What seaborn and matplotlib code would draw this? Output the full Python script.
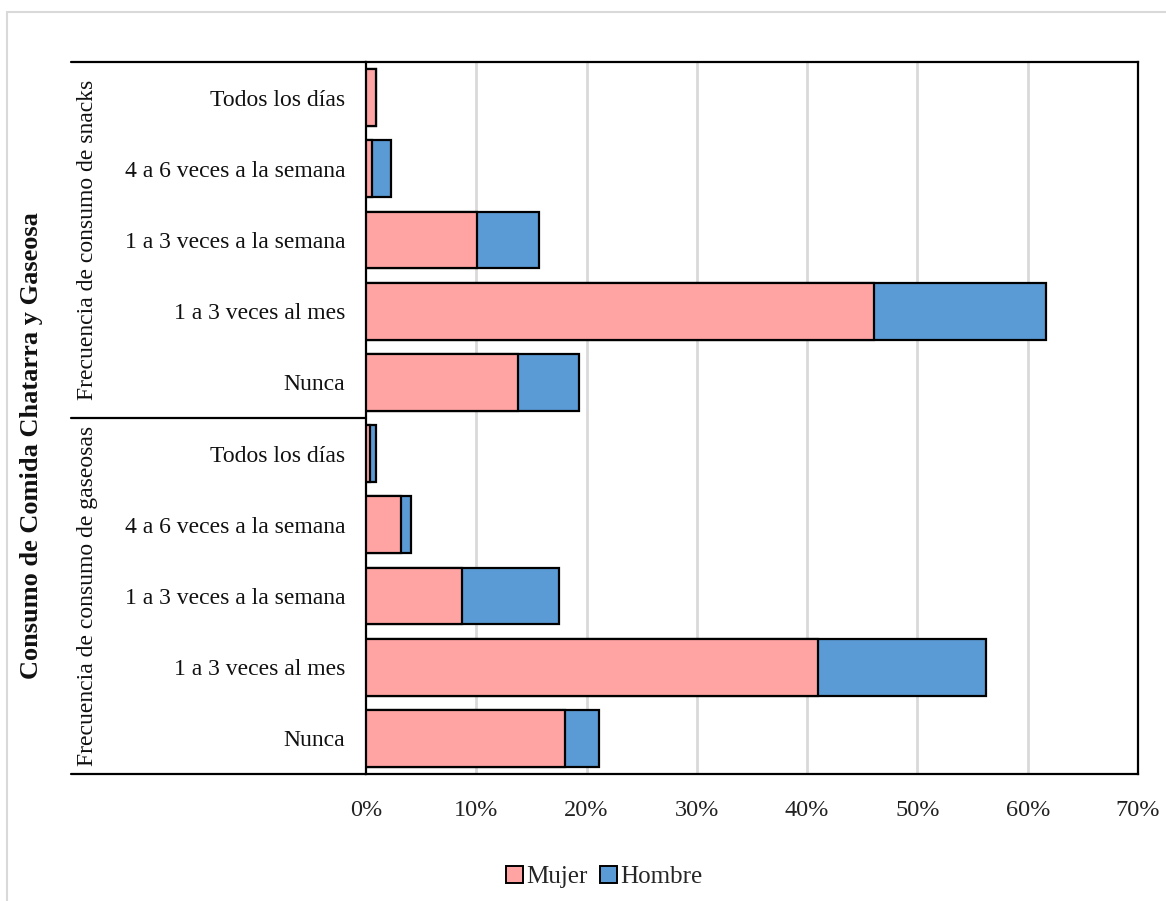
import matplotlib
matplotlib.use("Agg")
import matplotlib.pyplot as plt
from matplotlib.lines import Line2D
from matplotlib.patches import Patch
from matplotlib.ticker import PercentFormatter
import seaborn as sns
import pandas as pd

sns.set_theme(style="white")
plt.rcParams["font.family"] = ["Liberation Serif", "DejaVu Serif"]

# Frequency categories (top to bottom inside each group)
frecuencias = ["Todos los días", "4 a 6 veces a la semana", "1 a 3 veces a la semana",
               "1 a 3 veces al mes", "Nunca"]
grupos = ["Frecuencia de consumo de snacks", "Frecuencia de consumo de gaseosas"]

# Percentages by sex
mujer_snacks = [0.9, 0.5, 10.1, 46.1, 13.8]
hombre_snacks = [0.0, 1.8, 5.6, 15.6, 5.5]
mujer_gaseosas = [0.4, 3.2, 8.7, 41.0, 18.0]
hombre_gaseosas = [0.5, 0.9, 8.8, 15.2, 3.1]

x_ticks = [0, 10, 20, 30, 40, 50, 60, 70]

color_mujer = "#FFA3A3"
color_hombre = "#5B9BD5"

rows = []
for g, muj, hom in [(grupos[0], mujer_snacks, hombre_snacks),
                    (grupos[1], mujer_gaseosas, hombre_gaseosas)]:
    for f, m, h in zip(frecuencias, muj, hom):
        rows.append({"clave": f"{g}|{f}", "frecuencia": f, "Mujer": m, "Hombre": h})
df = pd.DataFrame(rows)
df["Total"] = df["Mujer"] + df["Hombre"]
order = list(df["clave"])

fig = plt.figure(figsize=(11.66, 9.01), dpi=100)
ax = fig.add_axes([366 / 1166, 1 - 774 / 901, (1138 - 366) / 1166, (774 - 62) / 901])

# Stacked bars: total first (Hombre colour), then Mujer on top
sns.barplot(data=df, y="clave", x="Total", order=order, orient="h", color=color_hombre,
            saturation=1, width=0.8, edgecolor="black", linewidth=1.6, ax=ax, zorder=3)
sns.barplot(data=df, y="clave", x="Mujer", order=order, orient="h", color=color_mujer,
            saturation=1, width=0.8, edgecolor="black", linewidth=1.6, ax=ax, zorder=4)

ax.set_xlim(0, 70)
ax.set_ylim(9.5, -0.5)
ax.set_xticks(x_ticks)
ax.xaxis.set_major_formatter(PercentFormatter(decimals=0))
ax.tick_params(axis="x", labelsize=17.5, length=0, pad=19, colors="#222222")
ax.set_yticks(range(len(order)))
ax.set_yticklabels(df["frecuencia"], fontsize=17, color="#111111")
ax.tick_params(axis="y", length=0, pad=15)
ax.set_xlabel("")
ax.set_ylabel("")

for v in x_ticks[1:-1]:
    ax.axvline(v, color="#D9D9D9", linewidth=2, zorder=1)

for side in ["left", "right", "top", "bottom"]:
    ax.spines[side].set_visible(True)
    ax.spines[side].set_color("black")
    ax.spines[side].set_linewidth(1.6)

# Group separators extending into the label area
x0 = 71 / 1166
xa = 366 / 1166
for ypix in [62, 418, 774]:
    yf = 1 - ypix / 901
    fig.add_artist(Line2D([x0, xa], [yf, yf], color="black", linewidth=1.6,
                          transform=fig.transFigure))

# Group labels (rotated)
for g, ytop, ybot in [(grupos[0], 62, 418), (grupos[1], 418, 774)]:
    fig.text(88 / 1166, 1 - (ytop + ybot) / 2 / 901, g, rotation=90, ha="center",
             va="center", fontsize=17, color="#111111")

fig.text(32 / 1166, 1 - 446 / 901, "Consumo de Comida Chatarra y Gaseosa", rotation=90,
         ha="center", va="center", fontsize=19, fontweight="bold", color="#111111")

# Legend
handles = [Patch(facecolor=color_mujer, edgecolor="black", linewidth=1.4, label="Mujer"),
           Patch(facecolor=color_hombre, edgecolor="black", linewidth=1.4, label="Hombre")]
fig.legend(handles=handles, loc="center", bbox_to_anchor=(604 / 1166, 1 - 877 / 901),
           ncol=2, frameon=False, fontsize=18, handlelength=0.7, handleheight=0.7,
           handletextpad=0.1, columnspacing=0.5)

# Chart area frame
fig.add_artist(Line2D([7 / 1166, 7 / 1166], [0, 1 - 12 / 901], color="#D9D9D9",
                      linewidth=1.5, transform=fig.transFigure))
fig.add_artist(Line2D([7 / 1166, 1], [1 - 12 / 901, 1 - 12 / 901], color="#D9D9D9",
                      linewidth=1.5, transform=fig.transFigure))

fig.savefig("out.png", dpi=100, facecolor="white")
